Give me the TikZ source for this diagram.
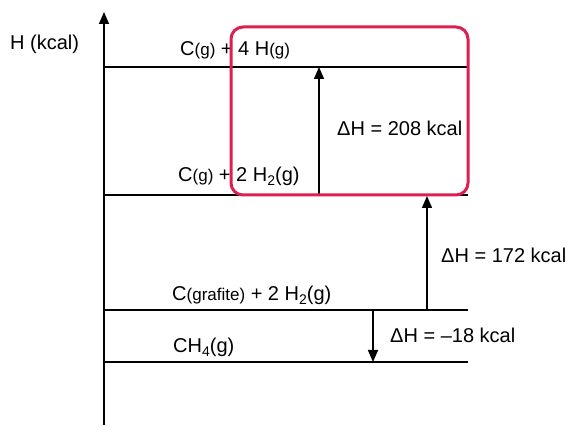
\documentclass[tikz,border=0pt]{standalone}
\usepackage{fontspec}
\setmainfont{Liberation Sans}
\usetikzlibrary{arrows.meta}
\definecolor{boxred}{RGB}{220,30,80}
\newcommand{\sm}[1]{{\fontsize{17}{20}\selectfont #1}}
\newcommand{\sub}[1]{\raisebox{-0.35ex}{\fontsize{14}{16}\selectfont #1}}
\begin{document}
\begin{tikzpicture}[x=1pt,y=-1pt,
  lvl/.style={line width=1.5pt},
  dh/.style={line width=1.5pt,-{Triangle[length=12pt,width=10pt]}},
  lbl/.style={font=\fontsize{20}{24}\selectfont,inner sep=0pt,anchor=base west}]
\useasboundingbox (0,0) rectangle (568,427);
% axis
\coordinate (ab) at (104,425);
\coordinate (at) at (104,12);
\draw[dh] (ab) -- (at);
\node[lbl] (hk) at (10,50) {H (kcal)};
% levels
\coordinate (l1a) at (104,67); \coordinate (l1b) at (468,67);
\coordinate (l2a) at (104,195); \coordinate (l2b) at (468,195);
\coordinate (l3a) at (104,310); \coordinate (l3b) at (468,310);
\coordinate (l4a) at (104,362); \coordinate (l4b) at (468,362);
\draw[lvl] (l1a) -- (l1b);
\draw[lvl] (l2a) -- (l2b);
\draw[lvl] (l3a) -- (l3b);
\draw[lvl] (l4a) -- (l4b);
% labels
\node[lbl] (t1) at (180,56) {C\sm{(g)} + 4 H\sm{(g)}};
\node[lbl] (t2) at (178,182) {C\sm{(g)} + 2 H\sub{2}(g)};
\node[lbl] (t3) at (172,301) {C\sm{(grafite)} + 2 H\sub{2}(g)};
\node[lbl] (t4) at (173,353) {CH\sub{4}(g)};
% arrows
\coordinate (a1s) at (319,195); \coordinate (a1e) at (319,67);
\draw[dh] (a1s) -- (a1e);
\coordinate (a2s) at (427,310); \coordinate (a2e) at (427,196);
\draw[dh] (a2s) -- (a2e);
\coordinate (a3s) at (373,310); \coordinate (a3e) at (373,362);
\draw[dh] (a3s) -- (a3e);
\node[lbl] (d1) at (337,136) {ΔH = 208 kcal};
\node[lbl] (d2) at (441,263) {ΔH = 172 kcal};
\node[lbl] (d3) at (390,343) {ΔH = –18 kcal};
% box
\draw[boxred,line width=3pt,rounded corners=12pt] (231,27) rectangle (468,195);
\end{tikzpicture}
\end{document}
